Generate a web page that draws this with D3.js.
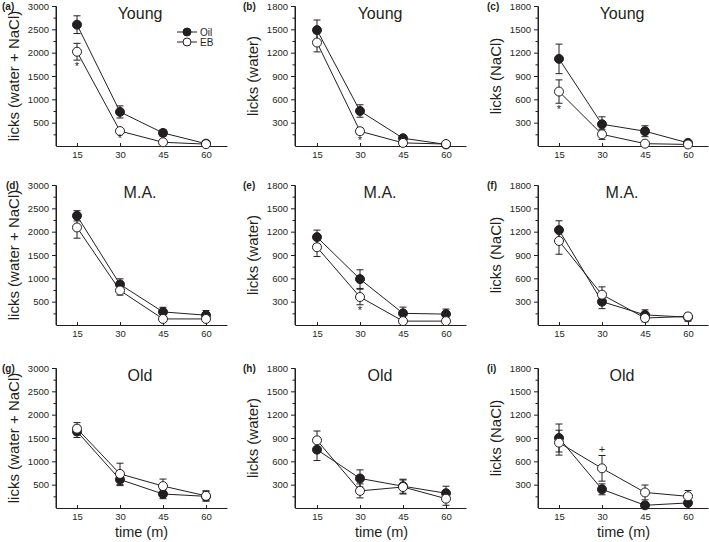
<!DOCTYPE html>
<html>
<head>
<meta charset="utf-8">
<script src="https://cdn.jsdelivr.net/npm/d3@7"></script>
<style>
  body { margin: 0; background: #fff; }
  svg { font-family: "Liberation Sans", Arial, sans-serif; }
  .tick text { font-size: 9.5px; fill: #231f20; }
  .tick line, .domain { stroke: #231f20; }
</style>
</head>
<body>
<div class="figure"></div>
<script>
// data
var times = [15, 30, 45, 60];
var panelTags = ["(a)", "(b)", "(c)", "(d)", "(e)", "(f)", "(g)", "(h)", "(i)"];
var groupNames = ["Young", "M.A.", "Old"];
var measureLabels = ["licks (water + NaCl)", "licks (water)", "licks (NaCl)"];
var yMaxes = [3000, 1800, 1800];
var majorTicksTotal = [500, 1000, 1500, 2000, 2500, 3000];
var minorTicksTotal = [250, 750, 1250, 1750, 2250, 2750];
var majorTicksPart = [300, 600, 900, 1200, 1500, 1800];
var minorTicksPart = [150, 450, 750, 1050, 1350, 1650];
var seriesNames = ["Oil", "EB"];

// one row per panel a..i, values at 15, 30, 45, 60 min
var oilMean = [
  [2600, 730, 280, 50],
  [1490, 450, 100, 20],
  [1120, 280, 190, 40],
  [2340, 870, 280, 210],
  [1130, 590, 150, 140],
  [1220, 300, 130, 100],
  [1640, 610, 300, 250],
  [750, 380, 280, 190],
  [900, 240, 35, 65]
];
var oilErr = [
  [190, 130, 70, 20],
  [130, 80, 30, 10],
  [190, 95, 70, 20],
  [110, 120, 100, 100],
  [90, 120, 80, 65],
  [120, 90, 65, 50],
  [130, 130, 100, 100],
  [140, 110, 90, 90],
  [180, 70, 20, 20]
];
var ebMean = [
  [2020, 320, 80, 40],
  [1330, 190, 40, 25],
  [700, 150, 30, 20],
  [2090, 740, 130, 130],
  [1000, 360, 50, 50],
  [1080, 390, 90, 110],
  [1700, 730, 470, 260],
  [870, 220, 270, 120],
  [840, 510, 200, 150]
];
var ebErr = [
  [180, 40, 20, 15],
  [120, 40, 15, 10],
  [150, 65, 15, 10],
  [230, 100, 40, 40],
  [120, 100, 15, 15],
  [170, 100, 50, 40],
  [130, 230, 150, 110],
  [120, 90, 90, 85],
  [160, 165, 95, 75]
];
// significance marks (EB vs Oil)
var sigPanels = [0, 0, 1, 2, 4, 8];
var sigTimes = [15, 30, 30, 15, 30, 30];
var sigSymbols = ["*", "*", "*", "*", "*", "+"];

var ink = "#231f20";

var svg = d3.select(".figure")
  .append("svg")
  .attr("width", 709)
  .attr("height", 542);

// panel geometry
var colAxisX = [56, 295, 538];
var colX15 = [77, 317, 559];
var colAxisEnd = [227, 466, 708];
var colTagX = [2, 243, 487];
var rowTop = [6, 185, 368];
var rowBottom = [146, 325, 508];

panelTags.forEach(function (tag, p) {
  var row = Math.floor(p / 3);
  var col = p % 3;

  // x scale: 15..60 on fixed pixels, then stretched out to the axis ends
  var x0 = d3.scaleLinear().domain([15, 60]).range([colX15[col], colX15[col] + 129]);
  var x = d3.scaleLinear()
    .domain([x0.invert(colAxisX[col]), x0.invert(colAxisEnd[col])])
    .range([colAxisX[col], colAxisEnd[col]]);
  var y = d3.scaleLinear().domain([0, yMaxes[col]]).range([rowBottom[row], rowTop[row]]);

  var g = svg.append("g").attr("class", "panel");

  // y axis, major + minor ticks
  g.append("g")
    .attr("transform", "translate(" + colAxisX[col] + ",0)")
    .call(d3.axisLeft(y).tickValues(col === 0 ? minorTicksTotal : minorTicksPart)
      .tickSize(2.5).tickSizeOuter(0).tickFormat(""));
  g.append("g")
    .attr("transform", "translate(" + colAxisX[col] + ",0)")
    .call(d3.axisLeft(y).tickValues(col === 0 ? majorTicksTotal : majorTicksPart)
      .tickSize(4).tickSizeOuter(0).tickPadding(3).tickFormat(d3.format("d")))
    .select(".domain").attr("d", "M0," + rowBottom[row] + "V" + rowTop[row]);

  // x axis, short inward ticks
  var xAxis = g.append("g")
    .attr("transform", "translate(0," + rowBottom[row] + ")")
    .call(d3.axisBottom(x).tickValues(times).tickSize(-3).tickSizeOuter(0).tickPadding(5));
  xAxis.selectAll(".tick text").attr("dy", "0.71em").attr("y", 5);

  // labels
  g.append("text")
    .attr("x", colTagX[col] + (p === 3 ? 4 : 0))
    .attr("y", rowTop[row] + 4)
    .style("font-size", "10px")
    .style("font-weight", "bold")
    .attr("fill", ink)
    .text(tag);

  g.append("text")
    .attr("x", x(37))
    .attr("y", rowTop[row] + 13)
    .attr("text-anchor", "middle")
    .style("font-size", "16px")
    .attr("fill", ink)
    .text(groupNames[row]);

  g.append("text")
    .attr("transform", "translate(" + (colAxisX[col] - 37) + "," + ((rowTop[row] + rowBottom[row]) / 2) + ") rotate(-90)")
    .attr("text-anchor", "middle")
    .style("font-size", "15px")
    .attr("fill", ink)
    .text(measureLabels[col]);

  if (row === 2) {
    g.append("text")
      .attr("x", x(37.5))
      .attr("y", 537)
      .attr("text-anchor", "middle")
      .style("font-size", "14.5px")
      .attr("fill", ink)
      .text("time (m)");
  }

  var series = [
    { name: "Oil", mean: oilMean[p], err: oilErr[p], fill: ink },
    { name: "EB", mean: ebMean[p], err: ebErr[p], fill: "#fff" }
  ];

  var line = d3.line()
    .x(function (d, i) { return x(times[i]); })
    .y(function (d) { return y(d); });

  series.forEach(function (s) {
    g.append("path")
      .attr("d", line(s.mean))
      .attr("fill", "none")
      .attr("stroke", ink)
      .attr("stroke-width", 1);
  });

  series.forEach(function (s) {
    var bars = g.append("g").selectAll("g")
      .data(s.mean)
      .join("g");
    bars.append("line")
      .attr("x1", function (d, i) { return x(times[i]); })
      .attr("x2", function (d, i) { return x(times[i]); })
      .attr("y1", function (d, i) { return y(d - s.err[i]); })
      .attr("y2", function (d, i) { return y(d + s.err[i]); })
      .attr("stroke", ink);
    [-1, 1].forEach(function (sign) {
      bars.append("line")
        .attr("x1", function (d, i) { return x(times[i]) - 3.5; })
        .attr("x2", function (d, i) { return x(times[i]) + 3.5; })
        .attr("y1", function (d, i) { return y(d + sign * s.err[i]); })
        .attr("y2", function (d, i) { return y(d + sign * s.err[i]); })
        .attr("stroke", ink);
    });
  });

  series.forEach(function (s) {
    g.append("g").selectAll("circle")
      .data(s.mean)
      .join("circle")
      .attr("cx", function (d, i) { return x(times[i]); })
      .attr("cy", function (d) { return y(d); })
      .attr("r", 4.5)
      .attr("fill", s.fill)
      .attr("stroke", ink)
      .attr("stroke-width", 1);
  });

  // significance marks
  sigPanels.forEach(function (sp, k) {
    if (sp !== p) return;
    var i = times.indexOf(sigTimes[k]);
    var above = sigSymbols[k] === "+";
    var yy = above ? y(ebMean[p][i] + ebErr[p][i]) - 3 : y(ebMean[p][i] - ebErr[p][i]) + 9.5;
    g.append("text")
      .attr("x", x(sigTimes[k]))
      .attr("y", yy)
      .attr("text-anchor", "middle")
      .style("font-size", "11px")
      .attr("fill", ink)
      .text(sigSymbols[k]);
  });

  // legend in panel (a)
  if (p === 0) {
    var legend = g.append("g").attr("class", "legend");
    seriesNames.forEach(function (name, k) {
      var ly = 32 + k * 10;
      legend.append("line")
        .attr("x1", 177).attr("x2", 197)
        .attr("y1", ly).attr("y2", ly)
        .attr("stroke", ink);
      legend.append("circle")
        .attr("cx", 187).attr("cy", ly).attr("r", 4)
        .attr("fill", k === 0 ? ink : "#fff")
        .attr("stroke", ink);
      legend.append("text")
        .attr("x", 200).attr("y", ly + 3.5)
        .style("font-size", "10px")
        .attr("fill", ink)
        .text(name);
    });
  }
});
</script>
</body>
</html>
